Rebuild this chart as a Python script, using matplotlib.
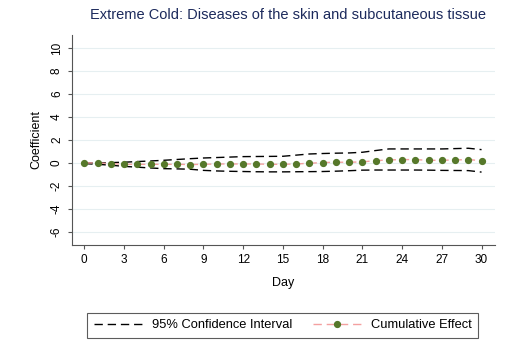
import matplotlib
matplotlib.use("Agg")
from matplotlib import pyplot as plt
import numpy as np

plt.rcParams['font.family'] = ['Liberation Sans', 'DejaVu Sans']

# lag days and estimated cumulative effect with 95% CI
days = np.arange(0, 31)
effect = [0.0, 0.0, -0.06, -0.12, -0.12, -0.12, -0.12, -0.12, -0.14, -0.12,
          -0.09, -0.09, -0.09, -0.09, -0.12, -0.12, -0.09, -0.03, 0.03, 0.06,
          0.06, 0.09, 0.2, 0.26, 0.29, 0.29, 0.23, 0.23, 0.26, 0.29, 0.2]
upper = [0.0, 0.0, 0.03, 0.06, 0.12, 0.17, 0.23, 0.3, 0.37, 0.43,
         0.47, 0.51, 0.55, 0.56, 0.57, 0.58, 0.68, 0.78, 0.82, 0.85,
         0.87, 0.93, 1.08, 1.22, 1.22, 1.22, 1.22, 1.22, 1.25, 1.28, 1.16]
lower = [-0.06, -0.12, -0.2, -0.3, -0.37, -0.44, -0.5, -0.52, -0.55, -0.65,
         -0.7, -0.73, -0.75, -0.77, -0.78, -0.78, -0.77, -0.76, -0.75, -0.72,
         -0.68, -0.63, -0.62, -0.62, -0.62, -0.62, -0.63, -0.65, -0.66, -0.67, -0.8]

yticks = np.arange(-6, 11, 2)
xticks = np.arange(0, 31, 3)

fig = plt.figure(figsize=(5.08, 3.43), dpi=100)
ax = fig.add_axes([0.1417, 0.2857, 0.8323, 0.6123])

dash = (0, (6, 3.5))
ax.plot(days, upper, color='black', lw=1.0, ls=dash,
        label='95% Confidence Interval')
ax.plot(days, lower, color='black', lw=1.0, ls=dash)
ax.plot(days, effect, color='#f4a0a0', lw=1.0, ls=dash,
        marker='o', ms=4.2, mfc='#56782a', mec='#56782a',
        label='Cumulative Effect')

ax.set_xlim(-0.93, 31.0)
ax.set_ylim(-7.16, 11.16)
ax.set_yticks(yticks)
ax.set_xticks(xticks)
ax.set_yticklabels([str(v) for v in yticks], rotation=90, va='center')
ax.tick_params(labelsize=8.5, length=3, color='#555555', width=0.8)
ax.grid(axis='y', color='#e6eff1', lw=0.8)
ax.set_axisbelow(True)
for s in ['top', 'right']:
    ax.spines[s].set_visible(False)
for s in ['left', 'bottom']:
    ax.spines[s].set_color('#555555')
    ax.spines[s].set_linewidth(0.8)

ax.set_ylabel('Coefficient', fontsize=9, labelpad=6)
ax.set_xlabel('Day', fontsize=9, labelpad=8)
fig.text(0.567, 0.955, 'Extreme Cold: Diseases of the skin and subcutaneous tissue',
         ha='center', va='center', fontsize=10.5, color='#1c2a5c')

leg = fig.legend(loc='center', bbox_to_anchor=(0.5565, 0.052), ncol=2,
                 fontsize=9.3, frameon=True, fancybox=False, edgecolor='#333333',
                 handlelength=3.8, handletextpad=0.7, columnspacing=1.6,
                 borderpad=0.5, borderaxespad=0)
leg.get_frame().set_linewidth(0.8)

fig.savefig('out.png', dpi=100)
